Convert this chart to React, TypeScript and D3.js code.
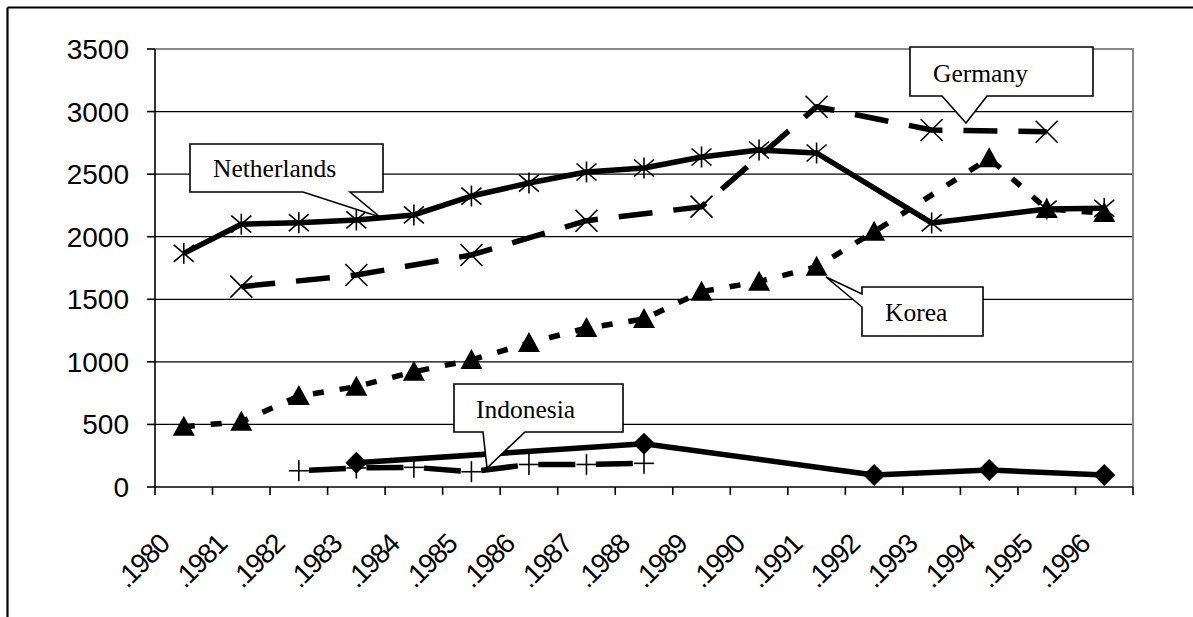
import React from "react";
import * as d3 from "d3";

// Yearly series; null means no observation for that year (line bridges the gap)
const years = [1980, 1981, 1982, 1983, 1984, 1985, 1986, 1987, 1988, 1989, 1990, 1991, 1992, 1993, 1994, 1995, 1996];
const yTicks = [0, 500, 1000, 1500, 2000, 2500, 3000, 3500];

const netherlands = [1867, 2100, 2112, 2134, 2174, 2325, 2429, 2517, 2549, 2637, 2693, 2669, null, 2110, null, 2221, 2227];
const germany = [null, 1601, null, 1694, null, 1854, null, 2128, null, 2240, null, 3039, null, 2853, null, 2839, null];
const korea = [482, 522, 727, 802, 921, 1015, 1151, 1270, 1342, 1561, 1641, 1760, 2040, null, 2627, 2221, 2189];
const indonesiaA = [null, null, null, 194, null, null, null, null, 345, null, null, null, 96, null, 136, null, 96];
const indonesiaB = [null, null, 130, 152, 157, 122, 180, 180, 189, null, null, null, null, null, null, null, null];

const W = 1193;
const H = 617;
const plot = { left: 155, right: 1133, top: 49, bottom: 487 };

const x = d3.scaleBand<number>().domain(years).range([plot.left, plot.right]).padding(0);
const y = d3.scaleLinear().domain([0, 3500]).range([plot.bottom, plot.top]);
const bw = x.bandwidth();
const cx = (yr: number) => (x(yr) as number) + bw / 2;

type Pt = [number, number];
const points = (vals: (number | null)[]): Pt[] =>
  years.flatMap((yr, i) => (vals[i] == null ? [] : [[cx(yr), y(vals[i] as number)] as Pt]));

const lineGen = d3.line<Pt>().x((d) => d[0]).y((d) => d[1]);

type MarkerKind = "star" | "x" | "triangle" | "diamond" | "plus";

function Marker({ kind, p }: { kind: MarkerKind; p: Pt }) {
  const [px, py] = p;
  const s = { stroke: "#000", strokeWidth: 1.6, fill: "none" };
  switch (kind) {
    case "star":
      return (
        <g transform={`translate(${px},${py})`} {...s}>
          <line x1={0} y1={-10.5} x2={0} y2={10.5} />
          <line x1={-10} y1={-8.5} x2={10} y2={8.5} />
          <line x1={-10} y1={8.5} x2={10} y2={-8.5} />
        </g>
      );
    case "x":
      return (
        <g transform={`translate(${px},${py})`} {...s}>
          <line x1={-11} y1={-11} x2={11} y2={11} />
          <line x1={-11} y1={11} x2={11} y2={-11} />
        </g>
      );
    case "plus":
      return (
        <g transform={`translate(${px},${py})`} {...s}>
          <line x1={-10} y1={0} x2={10} y2={0} />
          <line x1={0} y1={-10.5} x2={0} y2={10.5} />
        </g>
      );
    case "triangle":
      return <path transform={`translate(${px},${py})`} d="M0,-11L11,9L-11,9Z" fill="#000" />;
    case "diamond":
      return <path transform={`translate(${px},${py})`} d="M0,-11L11,0L0,11L-11,0Z" fill="#000" />;
  }
}

type Series = {
  name: string;
  values: (number | null)[];
  marker: MarkerKind;
  dash?: string;
  dashOffset?: number;
};

const series: Series[] = [
  { name: "Indonesia B", values: indonesiaB, marker: "plus", dash: "37 20.5", dashOffset: 47.3 },
  { name: "Indonesia A", values: indonesiaA, marker: "diamond" },
  { name: "Korea", values: korea, marker: "triangle", dash: "11 16" },
  { name: "Germany", values: germany, marker: "x", dash: "34 21" },
  { name: "Netherlands", values: netherlands, marker: "star" },
];

type Callout = { label: string; d: string; tx: number; ty: number };
const callouts: Callout[] = [
  { label: "Netherlands", d: "M190,144H383V192H350L380,217L303,192H190Z", tx: 213, ty: 177 },
  { label: "Germany", d: "M910,47H1093V96H987L966,123L942,96H910Z", tx: 933, ty: 82 },
  { label: "Korea", d: "M862,287H983V336H862V307L826,277L862,294Z", tx: 885, ty: 321 },
  { label: "Indonesia", d: "M454,384H623V432H525L487,468L483,432H454Z", tx: 476, ty: 418 },
];

export default function App() {
  const bounds = d3.range(years.length + 1).map((i) => plot.left + i * bw);
  return (
    <svg
      width={W}
      height={H}
      style={{ position: "absolute", left: 0, top: 0, background: "#fff" }}
    >
      <rect x={0} y={0} width={W} height={H} fill="#fff" />
      {/* chart frame */}
      <line x1={7.5} y1={7.5} x2={W} y2={7.5} stroke="#000" strokeWidth={2.2} />
      <line x1={7.5} y1={7.5} x2={7.5} y2={H} stroke="#000" strokeWidth={2.2} />

      {/* gridlines */}
      {yTicks
        .filter((t) => t > 0 && t < 3500)
        .map((t) => (
          <line key={t} x1={plot.left} x2={plot.right} y1={y(t)} y2={y(t)} stroke="#000" strokeWidth={1.3} />
        ))}
      {/* plot area border (top, right) */}
      <path
        d={`M${plot.left},${plot.top}H${plot.right}V${plot.bottom}`}
        fill="none"
        stroke="#888"
        strokeWidth={2}
      />

      {/* y axis */}
      <line x1={plot.left} x2={plot.left} y1={plot.top} y2={plot.bottom} stroke="#000" strokeWidth={1.6} />
      {yTicks.map((t) => (
        <g key={t}>
          <line x1={plot.left - 8} x2={plot.left} y1={y(t)} y2={y(t)} stroke="#000" strokeWidth={1.6} />
          <text
            x={129}
            y={y(t) + 10}
            textAnchor="end"
            fontFamily="'Liberation Sans', Arial, sans-serif"
            fontSize={28}
            fill="#000"
          >
            {t}
          </text>
        </g>
      ))}

      {/* x axis */}
      <line x1={plot.left} x2={plot.right} y1={plot.bottom} y2={plot.bottom} stroke="#000" strokeWidth={1.6} />
      {bounds.map((bx, i) => (
        <line key={i} x1={bx} x2={bx} y1={plot.bottom} y2={plot.bottom + 8} stroke="#000" strokeWidth={1.6} />
      ))}
      {years.map((yr) => (
        <text
          key={yr}
          transform={`translate(${cx(yr) - 13},546) rotate(-45)`}
          textAnchor="end"
          fontFamily="'Liberation Sans', Arial, sans-serif"
          fontSize={27.5}
          letterSpacing={-1.5}
          fill="#000"
        >
          {`.${yr}`}
        </text>
      ))}

      {/* series */}
      {series.map((s) => {
        const pts = points(s.values);
        return (
          <g key={s.name}>
            <path
              d={lineGen(pts) ?? ""}
              fill="none"
              stroke="#000"
              strokeWidth={5.5}
              strokeDasharray={s.dash}
              strokeDashoffset={s.dashOffset}
              strokeLinejoin="round"
            />
            {pts.map((p, i) => (
              <Marker key={i} kind={s.marker} p={p} />
            ))}
          </g>
        );
      })}

      {/* callouts */}
      {callouts.map((c) => (
        <g key={c.label}>
          <path d={c.d} fill="#fff" stroke="#000" strokeWidth={1.6} strokeLinejoin="miter" />
          <text
            x={c.tx}
            y={c.ty}
            fontFamily="'Liberation Serif', 'Times New Roman', serif"
            fontSize={25.5}
            fill="#000"
          >
            {c.label}
          </text>
        </g>
      ))}
    </svg>
  );
}
